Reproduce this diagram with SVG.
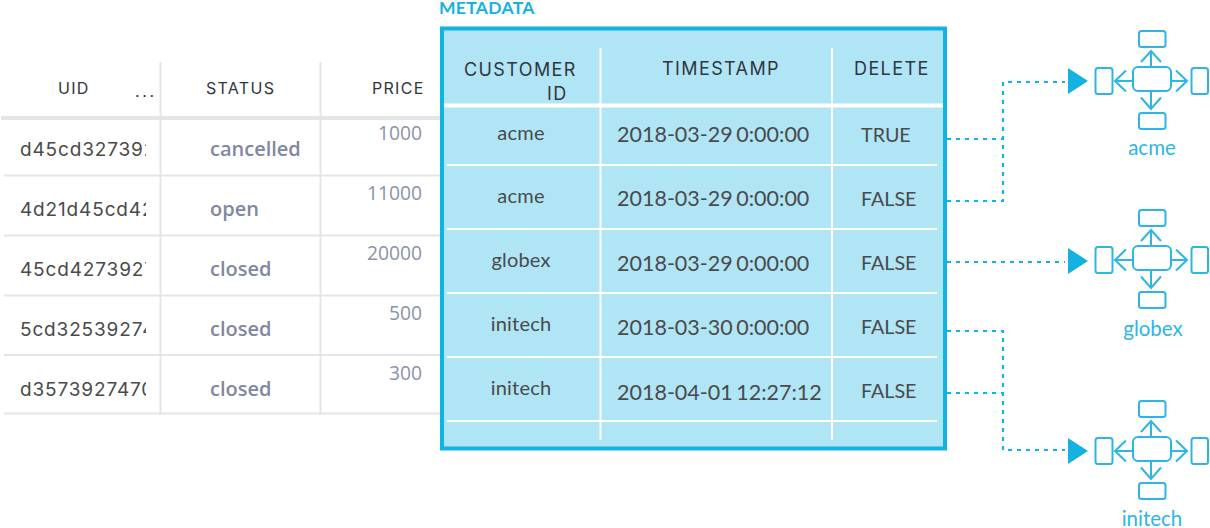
<svg xmlns="http://www.w3.org/2000/svg" xmlns:xlink="http://www.w3.org/1999/xlink" width="1210" height="528" viewBox="0 0 1210 528">
<style>
.grid{stroke:#e3e5ea;stroke-width:2;fill:none}
.wl{stroke:#fff;stroke-width:2;fill:none}
.h{font-family:Inter,"Liberation Sans",sans-serif;font-size:16px;letter-spacing:1.3px;fill:#30353f}
.h2{font-family:Inter,"Liberation Sans",sans-serif;font-size:18px;letter-spacing:1.4px;fill:#30353f}
.uid{font-family:Inter,"Liberation Sans",sans-serif;font-size:19px;letter-spacing:0.850px;fill:#4a4a4a}
.st{font-family:"Open Sans","Liberation Sans",sans-serif;font-size:20px;font-weight:600;fill:#7f87a3}
.num{font-family:"Open Sans","Liberation Sans",sans-serif;font-size:19.300px;fill:#8b92ab;text-anchor:end}
.v{font-family:Lato,"Liberation Sans",sans-serif;fill:#4a4a4a}
.id{font-size:20px;letter-spacing:0.200px;text-anchor:middle}
.ts{font-size:21.500px;word-spacing:-2px}
.b{font-size:19.700px}
.lab{font-family:Lato,"Liberation Sans",sans-serif;font-size:20.500px;fill:#2db5e5;text-anchor:middle}
.ic{stroke:#2db5e5;stroke-width:2;fill:none}
.dot{stroke:#14b1e3;stroke-width:2.200;stroke-dasharray:4 5;fill:none}
.tri{fill:#14b1e3}
</style>
<defs>
<clipPath id="uidclip"><rect x="0" y="120" width="146" height="295"/></clipPath>
<g id="ico">
<rect class="ic" x="1133" y="67" width="38" height="24" rx="5"/>
<rect class="ic" x="1139" y="31" width="26.500" height="16" rx="2.500"/>
<rect class="ic" x="1139" y="113" width="26.500" height="16" rx="2.500"/>
<rect class="ic" x="1095.500" y="68" width="17" height="26" rx="2.500"/>
<rect class="ic" x="1191.500" y="68" width="16.500" height="26" rx="2.500"/>
<path class="ic" d="M1151 66V51M1141 62L1151 51L1161 62M1151 91V109M1141 97.500L1151 109L1161 97.500M1133 81H1115M1126 70.500L1115 81L1126 91.500M1171 81H1187M1176 70.500L1187 81L1176 91.500"/>
</g>
</defs>
<g id="source-table">
<path class="grid" d="M160.500 62V415M320.500 62V415M4 175.500H440M4 235.500H440M4 295.500H440M4 355H440M4 413.500H440"/>
<path class="grid" style="stroke-width:4" d="M1 118H440"/>
<text class="h" x="58" y="94">UID</text>
<text class="h" style="letter-spacing:2.600px" x="135" y="97">...</text>
<text class="h" x="206" y="94">STATUS</text>
<text class="h" x="372" y="94">PRICE</text>
<g clip-path="url(#uidclip)">
<text class="uid" x="20" y="156">d45cd327392</text>
<text class="uid" x="20" y="216">4d21d45cd42</text>
<text class="uid" x="20" y="276">45cd4273927</text>
<text class="uid" x="20" y="336">5cd32539274</text>
<text class="uid" x="20" y="396">d3573927470</text>
</g>
<text class="st" x="210" y="156">cancelled</text>
<text class="st" x="210" y="216">open</text>
<text class="st" x="210" y="276">closed</text>
<text class="st" x="210" y="336">closed</text>
<text class="st" x="210" y="396">closed</text>
<text class="num" x="422" y="139.500">1000</text>
<text class="num" x="422" y="199.500">11000</text>
<text class="num" x="422" y="259.500">20000</text>
<text class="num" x="422" y="319.500">500</text>
<text class="num" x="422" y="379.500">300</text>
</g>
<g id="metadata">
<text x="439" y="14" style="font-family:Lato,'Liberation Sans',sans-serif;font-size:17.500px;font-weight:700;letter-spacing:0.300px;fill:#14b1e3">METADATA</text>
<rect x="442" y="28.500" width="503" height="420" fill="#b0e5f6" stroke="#14b1e3" stroke-width="4"/>
<path class="wl" d="M600.500 48V440M832 48V440M447 165H937M447 229H937M447 293H937M447 357H937M447 421H937"/>
<path class="wl" style="stroke-width:4" d="M444 105.500H943"/>
<text class="h2" x="464" y="76">CUSTOMER</text>
<text class="h2" x="547" y="100">ID</text>
<text class="h2" x="662" y="75">TIMESTAMP</text>
<text class="h2" x="854" y="75">DELETE</text>
<g class="v">
<text class="v id" x="521" y="140">acme</text>
<text class="v id" x="521" y="203">acme</text>
<text class="v id" x="521" y="267">globex</text>
<text class="v id" x="521" y="331">initech</text>
<text class="v id" x="521" y="395">initech</text>
<text class="v ts" x="617" y="142">2018-03-29 0:00:00</text>
<text class="v ts" x="617" y="206">2018-03-29 0:00:00</text>
<text class="v ts" x="617" y="271">2018-03-29 0:00:00</text>
<text class="v ts" x="617" y="335">2018-03-30 0:00:00</text>
<text class="v ts" x="617" y="400">2018-04-01 12:27:12</text>
<text class="v b" x="861" y="142">TRUE</text>
<text class="v b" x="861" y="206">FALSE</text>
<text class="v b" x="861" y="270">FALSE</text>
<text class="v b" x="861" y="334">FALSE</text>
<text class="v b" x="861" y="398">FALSE</text>
</g>
</g>
<g id="connectors">
<path class="dot" d="M947 139H1003M947 201H1003V82H1065"/>
<path class="dot" d="M947 262H1065"/>
<path class="dot" d="M947 331H1003V450H1065M947 393H1003"/>
<polygon class="tri" points="1068,68 1088,81 1068,94"/>
<polygon class="tri" points="1068,248 1088,261 1068,274"/>
<polygon class="tri" points="1068,438 1088,451 1068,464"/>
</g>
<g id="acme"><use xlink:href="#ico" href="#ico"/><text class="lab" x="1152" y="155">acme</text></g>
<g id="globex"><use xlink:href="#ico" href="#ico" y="179"/><text class="lab" x="1153" y="336">globex</text></g>
<g id="initech"><use xlink:href="#ico" href="#ico" y="370"/><text class="lab" x="1152" y="526">initech</text></g>
</svg>
